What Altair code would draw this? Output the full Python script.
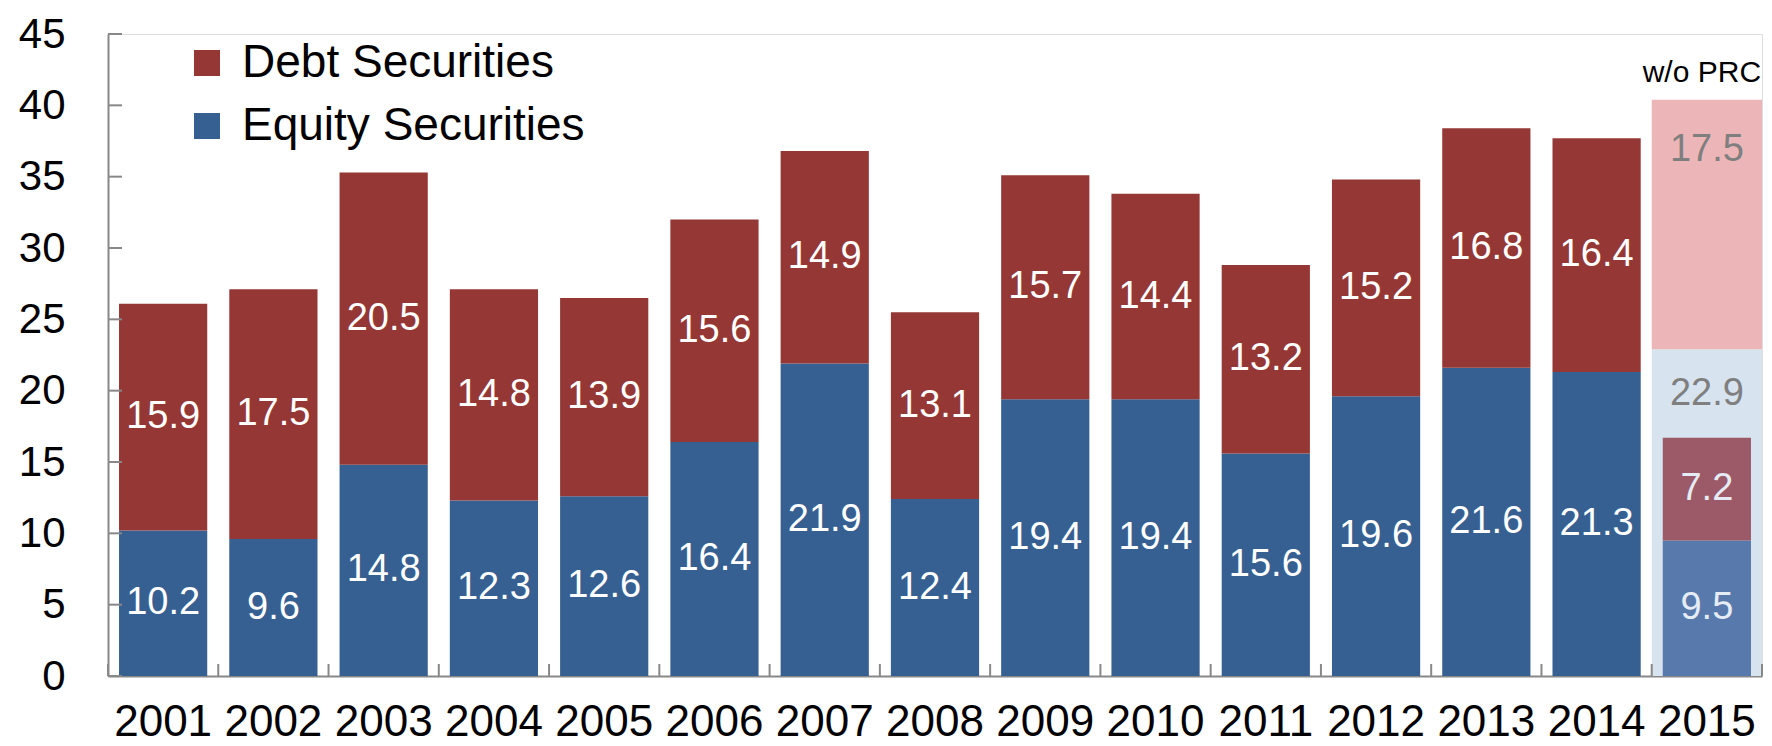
import altair as alt
import pandas as pd

years = ["2001", "2002", "2003", "2004", "2005", "2006", "2007", "2008",
         "2009", "2010", "2011", "2012", "2013", "2014", "2015"]
equity = [10.2, 9.6, 14.8, 12.3, 12.6, 16.4, 21.9, 12.4, 19.4, 19.4, 15.6, 19.6, 21.6, 21.3, 9.5]
debt = [15.9, 17.5, 20.5, 14.8, 13.9, 15.6, 14.9, 13.1, 15.7, 14.4, 13.2, 15.2, 16.8, 16.4, 7.2]

wo_prc_year = "2015"
wo_prc_label = "w/o PRC"
wo_prc_equity = 22.9
wo_prc_debt = 17.5

y_ticks = [0, 5, 10, 15, 20, 25, 30, 35, 40, 45]
series_names = ["Debt Securities", "Equity Securities"]

color_domain = ["Debt Securities", "Equity Securities", "Debt 2015", "Equity 2015",
                "Debt w/o PRC", "Equity w/o PRC"]
color_range = ["#953735", "#376092", "#9c5a68", "#5779ab", "#ecb6b8", "#d8e3f0"]

FONT = "Liberation Sans"
PLOT_W = 1654
PLOT_H = 642
GAP = PLOT_W / len(years) * 0.1  # half of the inner padding between bars

rows = []
for yr, e, d in zip(years, equity, debt):
    last = yr == wo_prc_year
    rows.append(dict(year=yr, key="Equity 2015" if last else "Equity Securities",
                     y0=0.0, y1=e, value=e, ymid=e / 2, inner=last))
    rows.append(dict(year=yr, key="Debt 2015" if last else "Debt Securities",
                     y0=e, y1=e + d, value=d, ymid=e + d / 2, inner=last))
bars = pd.DataFrame(rows)

inner_total = equity[years.index(wo_prc_year)] + debt[years.index(wo_prc_year)]
wo_total = wo_prc_equity + wo_prc_debt
bg = pd.DataFrame([
    dict(year=wo_prc_year, key="Equity w/o PRC", y0=0.0, y1=wo_prc_equity,
         value=wo_prc_equity, ymid=(inner_total + wo_prc_equity) / 2),
    dict(year=wo_prc_year, key="Debt w/o PRC", y0=wo_prc_equity, y1=wo_total,
         value=wo_prc_debt, ymid=wo_total - 0.2 * wo_prc_debt),
])
top = pd.DataFrame([dict(year=wo_prc_year, total=wo_total, label=wo_prc_label)])
ticks_df = pd.DataFrame({"v": y_ticks})
xt = pd.DataFrame({"year": years})
xt_last = pd.DataFrame({"year": [years[-1]]})

xscale = alt.Scale(domain=years, paddingInner=0.2, paddingOuter=0.1)
yscale = alt.Scale(domain=[0, 45], nice=False, zero=True)

X = alt.X("year:N", scale=xscale, sort=years,
          axis=alt.Axis(title=None, labelAngle=0, labelFontSize=44, labelFont=FONT,
                        labelColor="#000000", ticks=False, domainColor="#888888",
                        domainWidth=2, labelPadding=24, grid=False, labelLimit=300))
Y = alt.Y("y0:Q", scale=yscale,
          axis=alt.Axis(title=None, values=y_ticks, labelFontSize=42, labelFont=FONT,
                        labelColor="#000000", ticks=False, domainColor="#888888",
                        domainWidth=2, labelPadding=43, grid=False))

legend = alt.Legend(title=None, orient="none", legendX=76, legendY=6, values=series_names,
                    symbolType="square", symbolSize=676, symbolStrokeWidth=0,
                    labelFontSize=46, labelFont=FONT, labelColor="#000000", labelLimit=800,
                    rowPadding=17, labelOffset=12, padding=0)
C = alt.Color("key:N", scale=alt.Scale(domain=color_domain, range=color_range), legend=legend)

bg_bars = alt.Chart(bg).mark_bar(width=alt.RelativeBandSize(1.25)).encode(
    x=X, y=Y, y2="y1:Q", color=C)
bg_text = alt.Chart(bg).mark_text(font=FONT, fontSize=38, color="#7f7f7f").encode(
    x=X, y=alt.Y("ymid:Q", scale=yscale), text=alt.Text("value:Q", format=".1f"))
top_text = alt.Chart(top).mark_text(font=FONT, fontSize=30, color="#000000",
                                    baseline="alphabetic", dy=-18, dx=-5).encode(
    x=X, y=alt.Y("total:Q", scale=yscale), text="label:N")

main_bars = alt.Chart(bars).mark_bar().encode(x=X, y=Y, y2="y1:Q", color=C)
main_text = alt.Chart(bars).transform_filter("!datum.inner").mark_text(
    font=FONT, fontSize=38, color="#ffffff").encode(
    x=X, y=alt.Y("ymid:Q", scale=yscale), text=alt.Text("value:Q", format=".1f"))
inner_text = alt.Chart(bars).transform_filter("datum.inner").mark_text(
    font=FONT, fontSize=38, color="#e6ecf5").encode(
    x=X, y=alt.Y("ymid:Q", scale=yscale), text=alt.Text("value:Q", format=".1f"))

ytick_rules = alt.Chart(ticks_df).mark_rule(color="#888888", strokeWidth=2).encode(
    y=alt.Y("v:Q", scale=yscale), x=alt.value(0), x2=alt.value(14))
xtick_rules = alt.Chart(xt).mark_rule(color="#888888", strokeWidth=2, xOffset=-GAP).encode(
    x=alt.X("year:N", scale=xscale, bandPosition=0), y=alt.value(PLOT_H), y2=alt.value(PLOT_H - 12))
xtick_end = alt.Chart(xt_last).mark_rule(color="#888888", strokeWidth=2, xOffset=GAP).encode(
    x=alt.X("year:N", scale=xscale, bandPosition=1), y=alt.value(PLOT_H), y2=alt.value(PLOT_H - 12))

chart = alt.layer(
    bg_bars, bg_text, top_text, main_bars, main_text, inner_text,
    ytick_rules, xtick_rules, xtick_end
).properties(
    width=PLOT_W, height=PLOT_H,
    autosize=alt.AutoSizeParams(type="none"),
    padding={"left": 100, "top": 26, "right": 2, "bottom": 70},
).configure_view(strokeWidth=0).configure(font=FONT)

chart.save("out.html", embed_options={"renderer": "svg", "actions": False})
